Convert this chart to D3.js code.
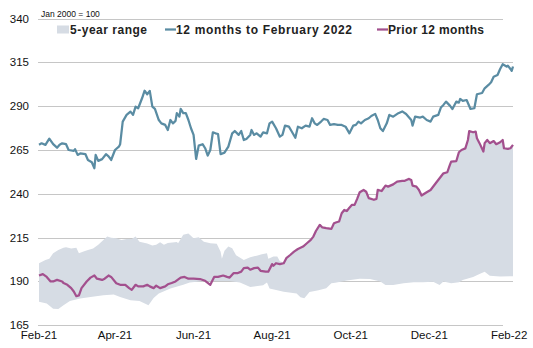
<!DOCTYPE html>
<html><head><meta charset="utf-8">
<script src="https://cdn.jsdelivr.net/npm/d3@7"></script>
<style>body{margin:0;background:#fff}svg{display:block}text{font-family:"Liberation Sans",Arial,sans-serif}</style>
</head><body>
<svg id="c" width="533" height="348"></svg>
<script>
// ---- data ----
const startDate = new Date(2021, 1, 1);
const endDate = new Date(2022, 1, 4);
const yTicks = [165, 190, 215, 240, 265, 290, 315, 340];
const xTickLabels = ["Feb-21","Apr-21","Jun-21","Aug-21","Oct-21","Dec-21","Feb-22"];
const xTickDates = [new Date(2021,1,1),new Date(2021,3,1),new Date(2021,5,1),new Date(2021,7,1),new Date(2021,9,1),new Date(2021,11,1),new Date(2022,1,1)];
const seriesNames = ["5-year range", "12 months to February 2022", "Prior 12 months"];
const unitNote = "Jan 2000 = 100";

// days since 1 Feb 2021
const currentDays = [0,2,5,8,11,14,16,18,21,23,27,28,30,32,36,38,41,43,44,46,49,52,54,56,59,62,63,65,68,71,73,75,77,80,82,84,86,88,90,93,95,98,100,102,104,106,107,109,110,112,114,116,118,120,122,124,127,129,131,133,135,137,139,141,144,147,150,152,155,157,159,161,164,165,167,169,172,174,177,179,181,184,187,189,191,194,196,199,201,204,207,210,212,214,216,219,221,224,226,229,232,235,238,241,244,246,248,250,253,256,258,261,263,265,267,270,272,275,279,282,285,289,290,292,296,298,301,304,306,310,312,314,316,319,321,324,326,327,329,332,335,338,340,344,346,349,351,353,356,358,360,363,364,366,367,368];
const currentVals = [268,268.8,267.9,271.5,268.3,266.3,268,268.8,268.3,265,264.5,265.5,262.2,263,262.7,259.3,258,254.6,262.2,258.8,259.8,262.6,261.4,259.3,265,266.9,268.3,281.2,285,286.9,285,289.7,288.8,294.5,298.8,296.8,298.7,289.7,288.4,282.1,280.2,279.3,276.4,282.1,280.2,281.6,286,284,288.4,286,286,282.1,277.4,273.6,259.9,267.5,268.3,266,261.8,265,275.1,274.5,274.1,262.6,263.5,266.9,274.5,275.8,273.6,275.8,270.7,271.3,273.6,276.4,273.6,274.5,272.6,275,274.5,280.2,281.2,277.4,272.6,273.6,278.9,278.3,275.8,272,278.3,277.4,278.9,278.3,283.1,280.2,279.3,281.2,282.7,282.1,279.3,279.7,279.3,279.3,278.3,274.5,278.9,279.3,281.2,280.2,282.1,283.1,284.4,285.6,282.1,277.4,275.8,280.2,285,284,286,287,285.5,282.1,278.9,284,283.5,284,282.1,281.2,284,285,289.2,290.7,292.6,290.3,288.4,292.6,292,294.1,293,293.5,288.4,288.8,296.8,297.5,300.2,302.1,303.6,306.8,307.8,311.2,313.9,312.6,313.1,311.2,310.1,312.6];

const priorDays = [0,3,6,9,11,14,18,19,22,25,27,29,31,33,37,40,43,45,49,51,54,56,60,63,67,70,72,75,77,81,84,86,89,91,94,98,100,103,106,110,113,116,120,125,129,133,136,139,143,146,148,151,154,157,159,162,164,167,170,172,176,178,181,182,184,187,190,192,195,198,201,205,208,211,213,215,218,220,223,227,229,231,233,235,237,239,241,243,245,247,249,252,254,256,260,262,263,266,269,271,275,278,282,284,287,289,290,293,295,297,301,304,308,311,314,317,319,320,324,326,328,331,333,334,337,339,340,342,345,346,348,350,353,355,358,360,361,364,366,368];
const priorVals = [193.4,194.2,192.6,190,190,190.9,190,189.1,188.1,186.2,184.3,181.6,182.1,186.2,190,192.2,193.4,191.6,190.9,191.6,193.4,192.6,189,188.1,188.1,186.2,185.2,188.1,187.2,187.2,188.1,187.2,186.2,187.6,186.2,187.2,188.4,189.1,190,192.2,192.6,191.6,191.6,191.4,190.4,188.1,192.6,192.6,193.4,192.6,192.2,194.7,194.7,195.6,197.6,197.9,196.7,197.6,197.9,196.1,195.6,195.6,199.9,199,200.4,199.9,200.4,203.3,205.1,207,208.5,209.9,211.8,213.7,215.6,218.8,222.3,220.8,220.4,220,223.2,223.8,224.2,228.9,230.8,230.2,232.1,233.7,233.7,237.1,240.9,242.2,241.2,237.5,236.6,237.1,242.2,241.6,244.7,244.1,245.4,247,247.4,247.4,248.5,247.9,244.7,244.1,242.2,239,240.9,242.2,246,248.9,251.7,252.3,256.5,258.4,258.7,263.7,265,265.9,270.7,275.8,275.1,275.5,271.7,268.9,264.1,268.9,270.7,268.9,270.1,268.3,269.4,270.7,266,265.6,266,267.9];

// 5-year range: upper edge (where above the prior-year line) and lower edge
const rangeHighDays = [0,5,8,11,15,19,21,25,29,31,34,38,42,46,50,53,56,60,64,68,72,75,78,84,88,91,94,97,100,107,108,112,116,120,124,128,133,138,141,142,144,147,150,153,159,164,169,173,177,178,179,182,185,187,190];
const rangeHighVals = [200.4,202.3,203,206.1,208,209.3,209.5,208.8,209.3,206.1,207,208,208.8,210.9,213.7,215.6,215,214.7,213.7,214.2,214.2,215.6,212.7,211.6,210.5,210.9,212.4,210.9,212,212.5,211.8,216.6,217.3,214.7,215.2,212.7,211.8,211.5,207,203,207.5,210,209,205,202.3,203.8,204.7,205.5,206.1,203,203.3,204.2,204.2,201.5,200.8];
const rangeLowDays = [0,6,11,15,19,24,32,40,50,58,63,71,78,85,89,93,102,112,117,128,148,156,164,174,177,179,190,200,203,206,210,217,223,227,230,239,249,257,265,269,275,283,291,298,306,311,314,320,326,329,337,342,346,350,358,368];
const rangeLowVals = [178.4,177.4,174.5,174.3,176.5,178.8,180.3,181.2,182.2,182.6,181.2,179.3,178.8,176.5,180.6,183.1,186,188.2,189.4,190.2,190.2,189.4,186.9,187.8,189.4,186,184.1,183.1,181,180.5,184,185,186.2,189,189.3,190.5,191.5,191.4,190,188,188,189,189.5,189.5,189.8,188,190,189,189.5,190.9,192.5,194.2,195.6,193.3,192.8,193];

// ---- drawing ----
const svg = d3.select("#c");
const dayMs = 86400000;
const toDate = d => new Date(startDate.getTime() + d * dayMs);
const x = d3.scaleTime().domain([startDate, endDate]).range([39, 513]);
const y = d3.scaleLinear().domain([165, 340]).range([325.3, 18.5]);

const colCurrent = "#5a8ca3", colPrior = "#a3508e", colRange = "#d6dce4";

// gridlines
svg.append("g").selectAll("line").data(yTicks).join("line")
  .attr("x1", 38).attr("x2", d => (d === 165 || d === 340) ? 503 : 513)
  .attr("y1", d => Math.round(y(d)) + 0.5).attr("y2", d => Math.round(y(d)) + 0.5)
  .attr("stroke", "#c6c6c6").attr("stroke-width", 1);

// y labels
svg.append("g").selectAll("text").data(yTicks).join("text")
  .attr("x", 29).attr("y", d => y(d)).attr("dy", "0.35em")
  .attr("text-anchor", "end").attr("font-size", 11.5).attr("fill", "#111")
  .text(d => d);

// x labels
svg.append("g").selectAll("text").data(xTickDates).join("text")
  .attr("x", d => x(d)).attr("y", 339)
  .attr("text-anchor", "middle").attr("font-size", 11.5).attr("fill", "#111")
  .text((d, i) => xTickLabels[i]);

// area
const lastHigh = rangeHighDays[rangeHighDays.length - 1];
const topPts = rangeHighDays.map((d, i) => [d, rangeHighVals[i]])
  .concat(priorDays.map((d, i) => [d, priorVals[i]]).filter(p => p[0] > lastHigh));
const bottomPts = rangeLowDays.map((d, i) => [d, rangeLowVals[i]]).reverse();
const poly = d3.line().x(p => x(toDate(p[0]))).y(p => y(p[1]));
svg.append("path").attr("d", poly(topPts.concat(bottomPts)) + "Z").attr("fill", colRange);

// lines
const line = d3.line().x(p => x(toDate(p[0]))).y(p => y(p[1]));
svg.append("path").attr("d", line(priorDays.map((d, i) => [d, priorVals[i]])))
  .attr("fill", "none").attr("stroke", colPrior).attr("stroke-width", 2.25).attr("stroke-linejoin", "round");
svg.append("path").attr("d", line(currentDays.map((d, i) => [d, currentVals[i]])))
  .attr("fill", "none").attr("stroke", colCurrent).attr("stroke-width", 2.25).attr("stroke-linejoin", "round");

// unit note
svg.append("text").attr("x", 41).attr("y", 17).attr("font-size", 8.5).attr("fill", "#111").text(unitNote);

// legend
const lg = svg.append("g").attr("font-size", 12).attr("font-weight", "bold").attr("fill", "#222");
lg.append("rect").attr("x", 57).attr("y", 25.5).attr("width", 12).attr("height", 8).attr("fill", colRange);
lg.append("text").attr("x", 70).attr("y", 33.5).attr("textLength", 77).attr("lengthAdjust", "spacing").text(seriesNames[0]);
lg.append("line").attr("x1", 165).attr("x2", 176).attr("y1", 29.5).attr("y2", 29.5).attr("stroke", colCurrent).attr("stroke-width", 2.25);
lg.append("text").attr("x", 176).attr("y", 33.5).attr("textLength", 176).attr("lengthAdjust", "spacing").text(seriesNames[1]);
lg.append("line").attr("x1", 377).attr("x2", 388).attr("y1", 29.5).attr("y2", 29.5).attr("stroke", colPrior).attr("stroke-width", 2.25);
lg.append("text").attr("x", 388).attr("y", 33.5).attr("textLength", 96).attr("lengthAdjust", "spacing").text(seriesNames[2]);
</script>
</body></html>
